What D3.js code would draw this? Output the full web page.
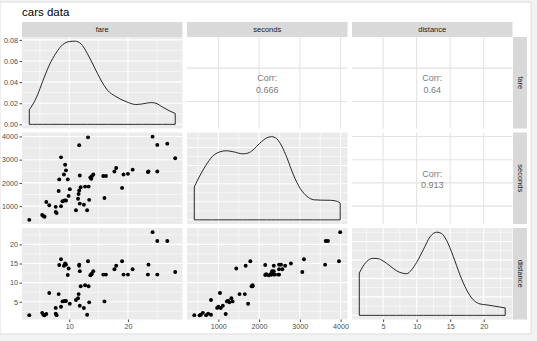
<!DOCTYPE html>
<html>
<head>
<meta charset="utf-8">
<script src="https://cdn.jsdelivr.net/npm/d3@7/dist/d3.min.js"></script>
<style>
  html, body { margin: 0; padding: 0; background: #f3f3f3; }
  svg { display: block; font-family: "Liberation Sans", Arial, sans-serif; }
</style>
</head>
<body>
<svg id="chart" width="537" height="341"></svg>
<script>
// ---- data: one entry per ride ----
const variables = ["fare", "seconds", "distance"];

const fare = [3.2, 5.4, 5.6, 5.8, 6.1, 6.6, 7.7, 7.7, 7.85, 8.2, 8.3, 8.6, 8.6, 8.85, 9.1, 9.2, 9.3, 9.45, 9.45, 9.75,
  9.9, 10.1, 11.15, 11.5, 11.6, 11.7, 11.7, 11.8, 11.8, 11.95, 12.5, 12.7, 13.05, 13.2, 13.3, 13.4, 13.6, 13.75, 13.85, 14.1,
  15.8, 16.0, 16.25, 17.7, 18.0, 19.0, 19.25, 20.0, 20.8, 23.4, 23.5, 24.2, 25.0, 25.0, 26.7, 28.05];

const seconds = [410, 620, 570, 540, 1180, 1040, 970, 750, 700, 1650, 2150, 3100, 1000, 1210, 2360, 1240, 2780, 1240, 2540, 2150,
  1440, 1730, 820, 1320, 1520, 1670, 3620, 1110, 2320, 1815, 1060, 1840, 820, 3960, 1840, 1270, 2235, 2175, 2290, 2360,
  2300, 1350, 2300, 2490, 2640, 1785, 2360, 2390, 2570, 2470, 2490, 3990, 3635, 2490, 3690, 3060];

const distance = [1.5, 2.1, 1.6, 1.45, 1.8, 7.3, 3.4, 1.9, 1.5, 7.0, 14.6, 16.1, 3.7, 5.1, 14.4, 5.2, 15.0, 5.2, 14.7, 12.0,
  13.7, 4.5, 5.45, 5.9, 7.0, 14.4, 14.7, 3.95, 13.0, 9.05, 3.35, 9.3, 1.6, 15.6, 9.05, 4.85, 11.95, 12.2, 12.3, 13.0,
  12.1, 5.1, 12.1, 13.5, 14.4, 15.6, 12.1, 12.1, 13.5, 12.1, 14.7, 23.2, 20.9, 12.1, 20.9, 12.8];

// kernel density estimates of each variable (diagonal panels)
const fareDensX = [3.2, 3.75, 4.6, 5.45, 6.6, 7.75, 8.85, 10.0, 11.0, 12.0, 13.1, 14.25, 15.4, 16.5, 17.95, 19.65, 21.35, 22.5, 23.9, 24.75, 25.9, 27.05, 28.05];
const fareDensY = [0.0138, 0.0184, 0.0278, 0.0403, 0.056, 0.0675, 0.0753, 0.0784, 0.0788, 0.0763, 0.0669, 0.0544, 0.0419, 0.0325, 0.0263, 0.0216, 0.0188, 0.0194, 0.0206, 0.02, 0.0163, 0.0128, 0.0103];

const secondsDensX = [410, 530, 695, 860, 1025, 1190, 1355, 1600, 1725, 1850, 2015, 2185, 2305, 2430, 2555, 2680, 2845, 3010, 3175, 3340, 3505, 3755, 3920, 3990];
const secondsDensY = [0.000182, 0.000237, 0.000302, 0.000352, 0.000375, 0.000382, 0.000377, 0.000365, 0.000369, 0.000386, 0.000423, 0.000453,
  0.00046, 0.000449, 0.000408, 0.000345, 0.000247, 0.000173, 0.00013, 0.000111, 0.000109, 0.000108, 0.000102, 0.000092];

const distanceDensX = [1.45, 2.0, 2.75, 3.5, 4.25, 5.0, 6.0, 7.0, 8.0, 8.5, 9.25, 10.0, 11.0, 12.0, 13.0, 13.7, 14.45, 15.45, 16.45, 17.45, 18.45, 19.45, 20.45, 21.4, 22.4, 23.2];
const distanceDensY = [0.0457, 0.053, 0.0595, 0.0617, 0.0613, 0.0588, 0.0537, 0.0482, 0.0454, 0.045, 0.0493, 0.0573, 0.0711, 0.085, 0.09, 0.0886,
  0.0813, 0.0639, 0.0439, 0.0275, 0.0167, 0.0123, 0.0113, 0.0102, 0.009, 0.008];

// pairwise correlations shown in the upper panels: [row, col, value]
const corrRows = [0, 0, 1];
const corrCols = [1, 2, 2];
const corrValues = ["0.666", "0.64", "0.913"];

// axis breaks
const fareTicks = [10, 20];
const secondsTicks = [1000, 2000, 3000, 4000];
const distanceTicks = [5, 10, 15, 20];
const fareDensTicks = [0, 0.02, 0.04, 0.06, 0.08];

// ---- layout ----
const svg = d3.select("#chart");
const panelW = 160.5, panelH = 91.5, colStep = 165, rowStep = 95.5;
const left0 = 22, top0 = 37, stripH = 15, stripW = 14;
const colX = i => left0 + i * colStep;
const rowY = j => top0 + j * rowStep;

const values = [fare, seconds, distance];
const ticks = [fareTicks, secondsTicks, distanceTicks];
const densX = [fareDensX, secondsDensX, distanceDensX];
const densY = [fareDensY, secondsDensY, distanceDensY];

// ggplot-style 5% expansion of a continuous range
const expand = ([a, b]) => { const d = b - a; return [a - 0.05 * d, b + 0.05 * d]; };

const xScales = values.map((v, i) => d3.scaleLinear().domain(expand(d3.extent(v))).range([colX(i), colX(i) + panelW]));
const yScales = values.map((v, j) => d3.scaleLinear().domain(expand(d3.extent(v))).range([rowY(j) + panelH, rowY(j)]));
const densScales = densY.map((d, k) => d3.scaleLinear().domain(expand([0, d3.max(d)])).range([rowY(k) + panelH, rowY(k)]));

function minorBreaks(major, domain) {
  const step = major[1] - major[0];
  const out = [];
  for (let v = major[0] - step / 2; v <= domain[1]; v += step) if (v >= domain[0]) out.push(v);
  return out;
}

// outer frame
svg.append("rect").attr("x", 0).attr("y", 2).attr("width", 531).attr("height", 332)
  .attr("fill", "#ffffff").attr("stroke", "#dedede").attr("stroke-width", 1);

// title
svg.append("text").attr("x", 22).attr("y", 16).attr("font-size", 11.5).attr("fill", "#000")
  .text("cars data");

// ---- panels ----
for (let r = 0; r < 3; r++) {
  for (let c = 0; c < 3; c++) {
    const g = svg.append("g");
    const x = xScales[c];
    const x0 = colX(c), y0 = rowY(r);
    const upper = c > r;
    const yS = (r === c) ? densScales[r] : yScales[r];
    const yMajor = (r === c) ? (r === 0 ? fareDensTicks : yS.ticks(5)) : ticks[r];
    const xMajor = ticks[c];

    g.append("rect").attr("x", x0).attr("y", y0).attr("width", panelW).attr("height", panelH)
      .attr("fill", upper ? "#ffffff" : "#ebebeb");

    const gridColor = upper ? "#e3e3e3" : "#ffffff";
    if (!upper) {
      minorBreaks(xMajor, x.domain()).forEach(v => g.append("line")
        .attr("x1", x(v)).attr("x2", x(v)).attr("y1", y0).attr("y2", y0 + panelH)
        .attr("stroke", gridColor).attr("stroke-width", 0.55));
      minorBreaks(yMajor, yS.domain()).forEach(v => g.append("line")
        .attr("x1", x0).attr("x2", x0 + panelW).attr("y1", yS(v)).attr("y2", yS(v))
        .attr("stroke", gridColor).attr("stroke-width", 0.55));
    }
    xMajor.filter(v => v >= x.domain()[0] && v <= x.domain()[1]).forEach(v => g.append("line")
      .attr("x1", x(v)).attr("x2", x(v)).attr("y1", y0).attr("y2", y0 + panelH)
      .attr("stroke", gridColor).attr("stroke-width", 1.05));
    yMajor.filter(v => v >= yS.domain()[0] && v <= yS.domain()[1]).forEach(v => g.append("line")
      .attr("x1", x0).attr("x2", x0 + panelW).attr("y1", yS(v)).attr("y2", yS(v))
      .attr("stroke", gridColor).attr("stroke-width", 1.05));

    if (r === c) {
      const pts = densX[c].map((v, k) => [v, densY[c][k]]);
      const area = d3.area().x(d => x(d[0])).y0(yS(0)).y1(d => yS(d[1])).curve(d3.curveMonotoneX);
      g.append("path").attr("d", area(pts) + "Z").attr("fill", "none")
        .attr("stroke", "#111").attr("stroke-width", 0.9);
    } else if (r > c) {
      g.selectAll("circle").data(values[c].map((v, k) => [v, values[r][k]])).join("circle")
        .attr("cx", d => x(d[0])).attr("cy", d => yS(d[1])).attr("r", 1.95).attr("fill", "#000");
    } else {
      const k = corrRows.findIndex((rr, idx) => rr === r && corrCols[idx] === c);
      const cx = x0 + panelW / 2, cy = y0 + panelH / 2;
      g.append("text").attr("x", cx).attr("y", cy - 4.5).attr("text-anchor", "middle")
        .attr("dominant-baseline", "central").attr("font-size", 9).attr("fill", "#7c7c7c").text("Corr:");
      g.append("text").attr("x", cx).attr("y", cy + 7).attr("text-anchor", "middle")
        .attr("dominant-baseline", "central").attr("font-size", 9).attr("fill", "#7c7c7c").text(corrValues[k]);
    }
  }
}

// ---- strips ----
variables.forEach((name, i) => {
  svg.append("rect").attr("x", colX(i)).attr("y", top0 - stripH).attr("width", panelW).attr("height", stripH)
    .attr("fill", "#d9d9d9");
  svg.append("text").attr("x", colX(i) + panelW / 2).attr("y", top0 - stripH / 2)
    .attr("text-anchor", "middle").attr("dominant-baseline", "central")
    .attr("font-size", 7.5).attr("fill", "#1a1a1a").text(name);

  const sx = colX(2) + panelW + 0.5;
  svg.append("rect").attr("x", sx).attr("y", rowY(i)).attr("width", stripW).attr("height", panelH)
    .attr("fill", "#d9d9d9");
  svg.append("text").attr("transform", `translate(${sx + stripW / 2},${rowY(i) + panelH / 2}) rotate(90)`)
    .attr("text-anchor", "middle").attr("dominant-baseline", "central")
    .attr("font-size", 7.5).attr("fill", "#1a1a1a").text(name);
});

// ---- axes ----
function styleAxis(sel) {
  sel.select(".domain").remove();
  sel.selectAll(".tick line").attr("stroke", "#333").attr("stroke-width", 0.9);
  sel.selectAll(".tick text").attr("fill", "#4d4d4d").attr("font-size", 7.2)
    .attr("font-family", "\"Liberation Sans\", Arial, sans-serif");
}

const leftFormats = [d3.format(".2f"), d3.format("d"), d3.format("d")];
const leftTicks = [fareDensTicks, secondsTicks, distanceTicks];
const leftScales = [densScales[0], yScales[1], yScales[2]];
leftScales.forEach((s, j) => {
  svg.append("g").attr("transform", `translate(${left0},0)`)
    .call(d3.axisLeft(s).tickValues(leftTicks[j]).tickFormat(leftFormats[j]).tickSize(2.5).tickPadding(1.5))
    .call(styleAxis);
});

const bottomY = rowY(2) + panelH;
xScales.forEach((s, i) => {
  svg.append("g").attr("transform", `translate(0,${bottomY})`)
    .call(d3.axisBottom(s).tickValues(ticks[i]).tickFormat(d3.format("d")).tickSize(2.5).tickPadding(1.5))
    .call(styleAxis);
});
</script>
</body>
</html>
